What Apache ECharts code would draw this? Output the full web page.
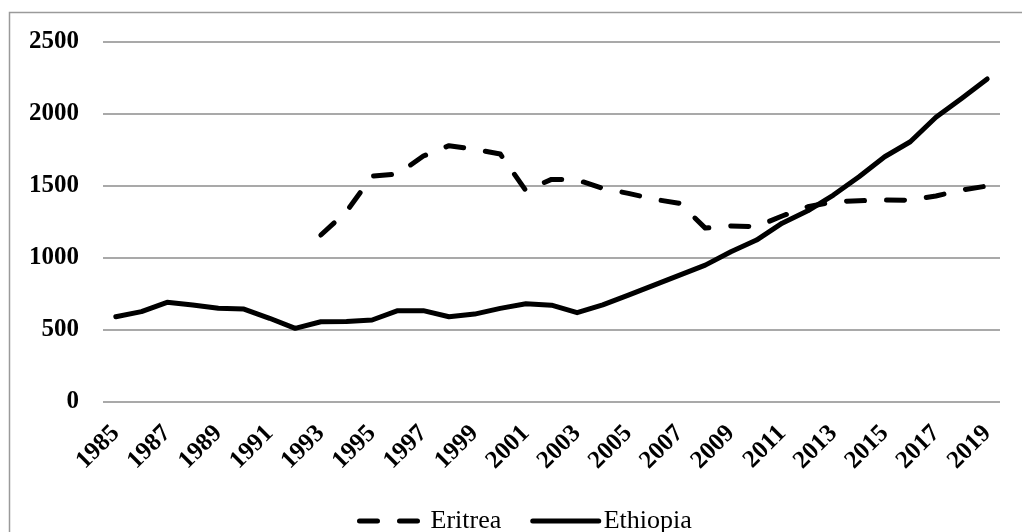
<!DOCTYPE html>
<html>
<head>
<meta charset="utf-8">
<script src="https://cdn.jsdelivr.net/npm/echarts@6/dist/echarts.min.js"></script>
<style>
html,body{margin:0;padding:0;background:#fff;}
#chart{width:1022px;height:532px;}
</style>
</head>
<body>
<div id="chart"></div>
<script>
const years = [];
for (let y = 1985; y <= 2019; y++) years.push(String(y));
const eritrea = [null,null,null,null,null,null,null,null,
  1157,1319,1566,1580,1705,1777,1752,1719,1465,1543,1539,1481,1446,1405,1377,1205,1219,1215,1289,1353,1388,1395,1400,1398,1428,1469,1497];
const ethiopia = [590,625,690,671,648,643,579,509,555,557,567,632,632,590,608,648,680,670,618,672,740,809,879,948,1041,1122,1239,1325,1434,1561,1700,1804,1974,2105,2240];
const yTicks = { min: 0, max: 2500, interval: 500 };

const chart = echarts.init(document.getElementById('chart'));
const serif = '"Liberation Serif", "Times New Roman", serif';
chart.setOption({
  animation: false,
  backgroundColor: '#fff',
  graphic: [{
    type: 'rect',
    shape: { x: 9.5, y: 12.5, width: 1040, height: 560 },
    style: { fill: 'none', stroke: '#9a9a9a', lineWidth: 1.5 },
    silent: true
  }],
  grid: { left: 103, right: 22, top: 41.5, bottom: 130.3, containLabel: false },
  legend: {
    left: 352, top: 503,
    itemWidth: 66, itemHeight: 14, itemGap: 29,
    itemStyle: { color: 'transparent', borderColor: 'transparent', borderWidth: 0, opacity: 0 },
    lineStyle: { width: 5 },
    textStyle: { fontFamily: serif, fontSize: 26, color: '#000' },
    data: ['Eritrea', 'Ethiopia']
  },
  xAxis: {
    type: 'category',
    data: years,
    boundaryGap: true,
    axisLine: { show: false },
    axisTick: { show: false },
    axisLabel: {
      interval: 1, rotate: 45, margin: 28,
      fontFamily: serif, fontSize: 25, fontWeight: 'bold', color: '#000'
    }
  },
  yAxis: {
    type: 'value',
    min: yTicks.min, max: yTicks.max, interval: yTicks.interval,
    axisLine: { show: false },
    axisTick: { show: false },
    splitLine: { lineStyle: { color: '#8c8c8c', width: 1.5 } },
    axisLabel: {
      margin: 24, fontFamily: serif, fontSize: 25, fontWeight: 'bold', color: '#000',
      formatter: function (v) { return String(v); }
    }
  },
  series: [
    {
      name: 'Eritrea', type: 'line', data: eritrea,
      symbol: 'none', connectNulls: false,
      lineStyle: { color: '#000', width: 5, type: [18, 22], cap: 'round', join: 'round' },
      itemStyle: { color: '#000' }
    },
    {
      name: 'Ethiopia', type: 'line', data: ethiopia,
      symbol: 'none',
      lineStyle: { color: '#000', width: 5, cap: 'round', join: 'round' },
      itemStyle: { color: '#000' }
    }
  ]
});
</script>
</body>
</html>
